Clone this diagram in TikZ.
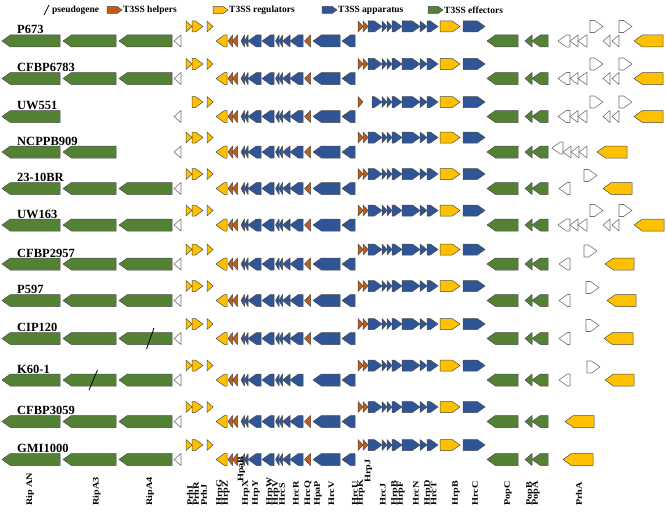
\documentclass[tikz,border=0pt]{standalone}
\usepackage{fontspec}
\setmainfont{Liberation Serif}
\usepackage{tikz}
\definecolor{effgreen}{RGB}{84, 130, 53}
\definecolor{appblue}{RGB}{47, 85, 151}
\definecolor{regyellow}{RGB}{255, 192, 0}
\definecolor{helporange}{RGB}{197, 90, 17}

% left-pointing gene: style, tip x, back x, centre y, height
\newcommand{\geneL}[5]{%
  \pgfmathsetmacro\gha{min(0.7*#5,#3-#2)}%
  \draw[#1] (#2,#4) -- (#2+\gha,#4-#5/2) -- (#3,#4-#5/2) -- (#3,#4+#5/2) -- (#2+\gha,#4+#5/2) -- cycle;}
% right-pointing gene: style, back x, tip x, centre y, height
\newcommand{\geneR}[5]{%
  \pgfmathsetmacro\gha{min(0.7*#5,#3-#2)}%
  \draw[#1] (#3,#4) -- (#3-\gha,#4-#5/2) -- (#2,#4-#5/2) -- (#2,#4+#5/2) -- (#3-\gha,#4+#5/2) -- cycle;}
% stretched gene name
\newcommand{\gname}[1]{\scalebox{1.2}[1]{#1}}

\begin{document}
\begin{tikzpicture}[
    x=1pt, y=-1pt,
    gene/.style={draw=black!70, line width=0.5pt, line join=round},
    eff/.style={gene, fill=effgreen},
    app/.style={gene, fill=appblue},
    reg/.style={gene, fill=regyellow},
    help/.style={gene, fill=helporange},
    hyp/.style={draw=black!55, line width=0.6pt, line join=round, fill=white},
    slash/.style={draw=black, line width=0.8pt},
    strain/.style={anchor=base west, inner sep=0pt, font=\fontsize{12.5}{14}\selectfont\bfseries},
    legend/.style={anchor=west, inner sep=1pt, font=\fontsize{9.5}{11}\selectfont\bfseries},
    genelab/.style={rotate=90, anchor=west, inner sep=0pt, font=\fontsize{8.5}{10}\selectfont\bfseries}
]
\path[fill=white] (0,0) rectangle (666,511);

% legend
\draw[slash] (44,15) -- (49,5);
\node[legend] (leg-pseudo) at (51,10) {pseudogene};
\geneR{help}{107}{122}{10}{7}
\node[legend] (leg-help) at (122,10) {T3SS helpers};
\geneR{reg}{213}{228}{10}{7}
\node[legend] (leg-reg) at (228,10) {T3SS regulators};
\geneR{app}{322}{337}{10}{7}
\node[legend] (leg-app) at (337,10) {T3SS apparatus};
\geneR{eff}{428}{443}{10}{7}
\node[legend] (leg-eff) at (443,10) {T3SS effectors};

% genes common to all strains
\foreach \y/\lab/\id in {41/P673/a, 78.5/CFBP6783/b, 116.5/UW551/c, 152/NCPPB909/d,
    188.5/23-10BR/e, 225/UW163/f, 264/CFBP2957/g, 300.5/P597/h, 338.5/CIP120/i,
    380/K60-1/j, 421.5/CFBP3059/k, 459.5/GMI1000/l} {
  \node[strain] (strain-\id) at (17,\y-7) {\lab};
  \geneL{eff}{2}{60}{\y}{12}
  \geneL{hyp}{174}{181}{\y}{12}
  \geneR{reg}{192}{203}{\y-14.5}{11}
  \geneR{reg}{207}{213}{\y-14.5}{11}
  % lower hrp block
  \geneL{reg}{216}{227}{\y}{12}
  \geneL{help}{228}{232.5}{\y}{12}
  \geneL{help}{232.5}{237.5}{\y}{12}
  \geneL{app}{241}{244.5}{\y}{12}
  \geneL{app}{244.5}{248}{\y}{12}
  \geneL{app}{248}{261}{\y}{12}
  \geneL{app}{262}{274}{\y}{12}
  \geneL{app}{275.5}{279}{\y}{12}
  \geneL{app}{279}{282.5}{\y}{12}
  \geneL{app}{282.5}{290}{\y}{12}
  \geneL{app}{290}{303}{\y}{12}
  \geneL{app}{313}{340}{\y}{12}
  \geneL{app}{342}{355}{\y}{12}
  % upper hrp block
  \geneR{help}{358}{363}{\y-14.5}{11}
  \geneR{app}{382}{387}{\y-14.5}{11}
  \geneR{app}{387}{392}{\y-14.5}{11}
  \geneR{app}{392}{402}{\y-14.5}{11}
  \geneR{app}{402}{420}{\y-14.5}{11}
  \geneR{app}{420}{427}{\y-14.5}{11}
  \geneR{app}{427}{438}{\y-14.5}{11}
  \geneR{reg}{440}{460}{\y-14.5}{11}
  \geneR{app}{463}{485}{\y-14.5}{11}
  % pop genes
  \geneL{eff}{487}{518}{\y}{12}
  \geneL{eff}{525}{532}{\y}{12}
  \geneL{eff}{532}{548}{\y}{12}
}

% RipA3 (absent in UW551)
\foreach \y in {41,78.5,152,188.5,225,264,300.5,338.5,380,421.5,459.5}
  {\geneL{eff}{63}{116}{\y}{12}}
% RipA4 (absent in UW551, NCPPB909)
\foreach \y in {41,78.5,188.5,225,264,300.5,338.5,380,421.5,459.5}
  {\geneL{eff}{119}{172}{\y}{12}}
% PrhI (absent in UW551)
\foreach \y in {41,78.5,152,188.5,225,264,300.5,338.5,380,421.5,459.5}
  {\geneR{reg}{186}{192}{\y-14.5}{11}}
% HrcQ (absent in K60-1)
\foreach \y in {41,78.5,116.5,152,188.5,225,264,300.5,338.5,421.5,459.5}
  {\geneL{help}{304.5}{310.5}{\y}{12}}
% second helper and first apparatus gene of upper block
\foreach \y in {41,78.5,152,188.5,225,264,300.5,338.5,380,421.5,459.5}
  {\geneR{help}{363}{368}{\y-14.5}{11}
   \geneR{app}{368}{382}{\y-14.5}{11}}
\geneR{app}{372}{382}{102}{11}

% right end, full set of small genes
\foreach \y/\e in {41/663, 78.5/663, 116.5/663, 225/664} {
  \geneL{hyp}{558}{570}{\y}{12}
  \geneL{hyp}{570}{578}{\y}{12}
  \geneL{hyp}{578}{587}{\y}{12}
  \geneR{hyp}{590}{603}{\y-14.5}{12}
  \geneL{hyp}{603}{610}{\y}{12}
  \geneL{hyp}{612}{619}{\y}{12}
  \geneR{hyp}{619}{632}{\y-14.5}{12}
  \geneL{reg}{634}{\e}{\y}{12}
}
% NCPPB909
\geneL{hyp}{552}{563}{148}{12}
\geneL{hyp}{563}{571}{152}{12}
\geneL{hyp}{571}{579}{152}{12}
\geneL{hyp}{579}{587}{152}{12}
\geneL{reg}{597}{627}{152}{12}
% strains with one white gene pair
\foreach \y/\r/\p in {188.5/584/603, 264/584/605, 300.5/586/607, 338.5/586/604, 380/587/605} {
  \geneL{hyp}{559}{570}{\y}{12}
  \geneR{hyp}{\r}{\r+13}{\y-13}{12}
  \geneL{reg}{\p}{\p+29}{\y}{12}
}
% CFBP3059, GMI1000
\geneL{reg}{565}{594}{421.5}{12}
\geneL{reg}{563}{593}{459.5}{12}

% pseudogene marks
\draw[slash] (146.5,349) -- (154,328);
\draw[slash] (89,390) -- (97.5,370);

% gene names
\foreach \x/\t [count=\i] in {30/Rip AN, 96.5/RipA3, 150/RipA4, 190/PrhI, 196/PrhR, 204/PrhJ,
    220/HrpG, 226/HrpZ, 246/HrpX, 256/HrpY, 270/HrpW, 276/HrpV, 282/HrcS, 296/HrcR,
    308/HrcQ, 318/HpaP, 331.5/HrcV, 355/HrcU, 361/HrpK, 383/HrcJ, 395/HrpB, 401/HrpF,
    416/HrcN, 428/HrpD, 433.5/HrcT, 456/HrpB, 475/HrcC, 508/PopC, 530/PopB, 536/PopA, 579/PrhA}
  \node[genelab] (glab\i) at (\x,506) {\gname{\t}};
\node[genelab] (glab-hpab) at (241.5,482) {\gname{HpaB}};
\node[genelab] (glab-hrpj) at (368.5,483) {\gname{HrpJ}};
\end{tikzpicture}
\end{document}
